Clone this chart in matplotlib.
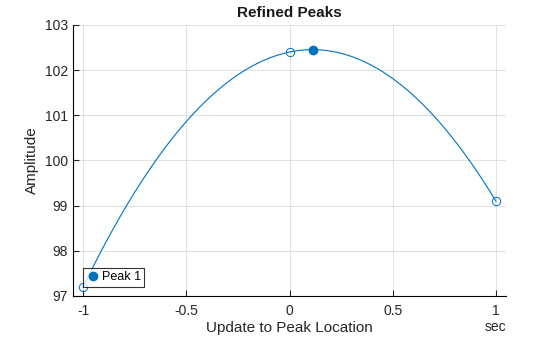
import numpy as np
import matplotlib.pyplot as plt

plt.rcParams['font.family'] = ['Liberation Sans', 'DejaVu Sans']

# samples around the peak and the refined peak location
sample_offsets = [-1, 0, 1]
sample_amps = [97.2, 102.4, 99.1]
peak_offset = [0.112]
peak_amp = [102.453]

blue = '#0072BD'

# quadratic fit through the three samples
coef = np.polyfit(sample_offsets, sample_amps, 2)
xx = np.linspace(-1, 1, 400)
yy = np.polyval(coef, xx)

fig = plt.figure(figsize=(5.6, 3.37), dpi=100)
ax = fig.add_axes([0.130, 0.1217, 0.774, 0.8043])

ax.plot(xx, yy, color=blue, lw=0.8)
ax.plot(sample_offsets, sample_amps, 'o', mfc='none', mec=blue, ms=6, mew=0.7)
ax.plot(peak_offset, peak_amp, 'o', color=blue, ms=6, label='Peak 1')

ax.set_xlim(-1.05, 1.05)
ax.set_ylim(97, 103)
ax.set_xticks([-1, -0.5, 0, 0.5, 1])
ax.set_xticklabels(['-1', '-0.5', '0', '0.5', '1'])
ax.set_yticks(range(97, 104))
ax.grid(True, color='#dcdcdc', lw=0.6)
ax.set_axisbelow(True)
ax.spines['top'].set_visible(False)
ax.spines['right'].set_visible(False)
ax.tick_params(direction='in', labelsize=10, colors='#262626', length=4)
ax.tick_params(axis='x', pad=6)

ax.set_title('Refined Peaks', fontsize=11, fontweight='bold', color='#1a1a1a', pad=6)
ax.set_xlabel('Update to Peak Location', fontsize=11, color='#262626', labelpad=2)
ax.set_ylabel('Amplitude', fontsize=11, color='#262626', labelpad=4)
ax.text(1.0, -0.088, 'sec', transform=ax.transAxes, ha='right', va='top',
        fontsize=10, color='#262626')

leg = ax.legend(loc='lower left', bbox_to_anchor=(0.023, 0.035), fontsize=9,
                frameon=True, fancybox=False, borderpad=0.25, handletextpad=0.1,
                handlelength=1.2, borderaxespad=0)
leg.get_frame().set_edgecolor('black')
leg.get_frame().set_linewidth(0.8)

fig.savefig('out.png', dpi=100)
